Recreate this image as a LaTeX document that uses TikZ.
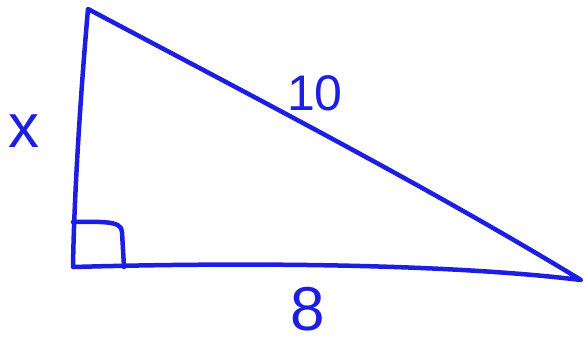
\documentclass[tikz,border=0pt]{standalone}
\usepackage{fontspec}
\setmainfont{Liberation Sans}
\definecolor{pen}{RGB}{28,30,225}
\begin{document}
\begin{tikzpicture}[x=1pt,y=-1pt,
  stroke/.style={draw=pen,line width=4.5pt,line cap=round,line join=round},
  lbl/.style={text=pen,inner sep=0pt}]
\useasboundingbox (0,0) rectangle (585,343);
\coordinate (T) at (88,9);
\coordinate (L) at (73,267);
\coordinate (R) at (581,280);
\coordinate (Ma) at (73,222);
\coordinate (Mb) at (122,232);
\coordinate (Mc) at (124,267);
\draw[stroke] (T) .. controls (80,100) and (74,200) .. (L)
  .. controls (250,262) and (450,264) .. (R)
  .. controls (430,188) and (250,95) .. cycle;
\draw[stroke] (Ma) .. controls (100,222) and (122,220) .. (Mb) -- (Mc);
\node[lbl,font=\fontsize{62}{62}\selectfont] (x) at (24,131) {x};
\node[lbl,font=\fontsize{50}{50}\selectfont] (ten) at (315,93) {10};
\node[lbl,font=\fontsize{62}{62}\selectfont] (eight) at (308,309) {8};
\end{tikzpicture}
\end{document}
